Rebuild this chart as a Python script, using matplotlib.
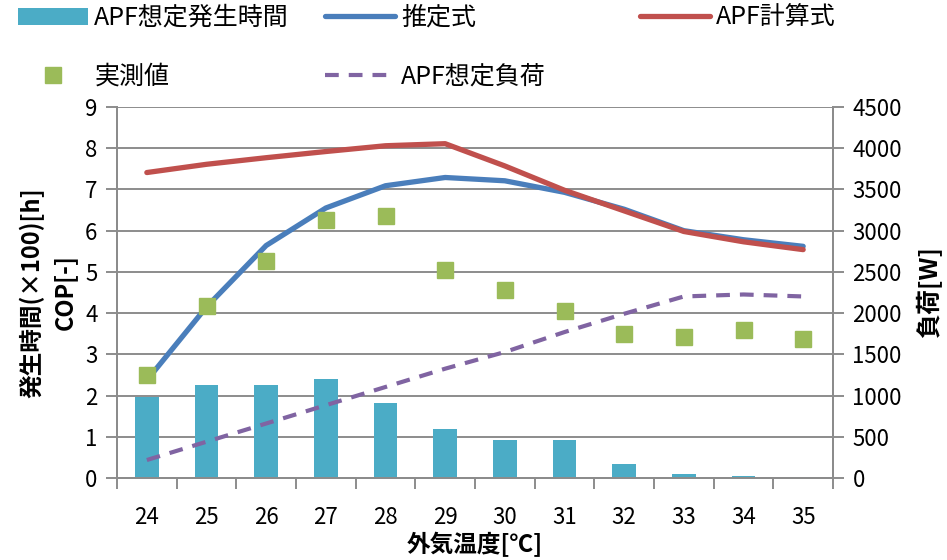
import numpy as np
import matplotlib
matplotlib.use("Agg")
import matplotlib.pyplot as plt
from matplotlib.patches import Patch
from matplotlib.lines import Line2D

plt.rcParams['font.family'] = ['Noto Sans CJK JP', 'DejaVu Sans']

# ---- data ----
temps = ['24', '25', '26', '27', '28', '29', '30', '31', '32', '33', '34', '35']
hours = [1.96, 2.25, 2.25, 2.39, 1.81, 1.20, 0.92, 0.91, 0.33, 0.09, 0.05, 0.02]   # APF想定発生時間 (x100 h)
estimate = [2.37, 4.15, 5.64, 6.55, 7.09, 7.29, 7.21, 6.93, 6.52, 6.00, 5.78, 5.62]  # 推定式
apf_calc = [7.41, 7.61, 7.77, 7.92, 8.06, 8.11, 7.57, 6.98, 6.48, 5.98, 5.73, 5.54]  # APF計算式
measured = [2.49, 4.17, 5.27, 6.27, 6.36, 5.05, 4.55, 4.04, 3.50, 3.42, 3.60, 3.36]  # 実測値
load = [218, 440, 661, 883, 1104, 1326, 1528, 1770, 1992, 2202, 2226, 2202]        # APF想定負荷 [W]

C_BAR = '#4BACC6'
C_BLUE = '#4A7EBB'
C_RED = '#C0504D'
C_GREEN = '#9BBB59'
C_PURPLE = '#8064A2'
C_GRID = '#8C8C8C'

W, H = 947, 560
fig = plt.figure(figsize=(W / 100, H / 100), dpi=100)
ax = fig.add_axes([117 / W, 1 - 478 / H, 716 / W, 371 / H])

x = np.arange(len(temps))
ax.bar(x, hours, width=0.4, color=C_BAR, zorder=2)
ax.plot(x, estimate, color=C_BLUE, lw=3.8, zorder=3, solid_capstyle='round', solid_joinstyle='round')
ax.plot(x, apf_calc, color=C_RED, lw=3.8, zorder=4, solid_capstyle='round', solid_joinstyle='round')
ax.plot(x, measured, linestyle='none', marker='s', ms=11, color=C_GREEN, zorder=5)

ax.set_xlim(-0.5, len(temps) - 0.5)
ax.set_ylim(0, 9)
ax.set_yticks(range(10))
ax.set_axisbelow(True)
ax.grid(axis='y', color=C_GRID, lw=1.4, zorder=0)

ax.set_xticks(x)
ax.set_xticklabels(temps)
ax.set_xticks(np.arange(-0.5, len(temps), 1.0), minor=True)
ax.tick_params(axis='x', which='major', length=0, labelsize=16, pad=20)
ax.tick_params(axis='x', which='minor', length=8, width=1.4, color=C_GRID, direction='out')
ax.tick_params(axis='y', length=8, width=1.4, color=C_GRID, direction='out', labelsize=16, pad=6)

for s in ['left', 'bottom', 'right']:
    ax.spines[s].set_color(C_GRID)
    ax.spines[s].set_linewidth(1.4)
ax.spines['top'].set_visible(False)

ax.set_xlabel('外気温度[℃]', fontsize=17, fontweight='bold', labelpad=2)
ax.set_ylabel('発生時間(×100)[h]\nCOP[-]', fontsize=17, fontweight='bold',
              linespacing=1.45, labelpad=6)

ax2 = ax.twinx()
ax2.plot(x, load, color=C_PURPLE, lw=3.0, dashes=(3.3, 2.4), zorder=6)
ax2.set_ylim(0, 4500)
ax2.set_yticks(range(0, 4501, 500))
ax2.tick_params(axis='y', length=8, width=1.4, color=C_GRID, direction='out', labelsize=16, pad=6)
for s in ['left', 'bottom', 'right']:
    ax2.spines[s].set_color(C_GRID)
    ax2.spines[s].set_linewidth(1.4)
ax2.spines['top'].set_visible(False)
ax2.set_ylabel('負荷[W]', fontsize=18, fontweight='bold', labelpad=10)

# ---- legend (three columns placed individually) ----
h_bar = Patch(facecolor=C_BAR, edgecolor='none')
h_green = Line2D([], [], linestyle='none', marker='s', ms=11, color=C_GREEN)
h_blue = Line2D([], [], color=C_BLUE, lw=3.8, solid_capstyle='round')
h_purple = Line2D([], [], color=C_PURPLE, lw=3.0, dashes=(3.3, 2.4))
h_red = Line2D([], [], color=C_RED, lw=3.8, solid_capstyle='round')

common = dict(loc='upper left', frameon=False, fontsize=18, borderpad=0, borderaxespad=0,
              handlelength=2.8, handletextpad=0.25, labelspacing=1.3, numpoints=1)
fig.legend([h_bar, h_green], ['APF想定発生時間', '実測値'],
           bbox_to_anchor=(18 / W, 1 - 5 / H), **common)
fig.legend([h_blue, h_purple], ['推定式', 'APF想定負荷'],
           bbox_to_anchor=(325 / W, 1 - 5 / H), **common)
fig.legend([h_red], ['APF計算式'],
           bbox_to_anchor=(640 / W, 1 - 5 / H), **common)

fig.savefig('out.png', dpi=100)
